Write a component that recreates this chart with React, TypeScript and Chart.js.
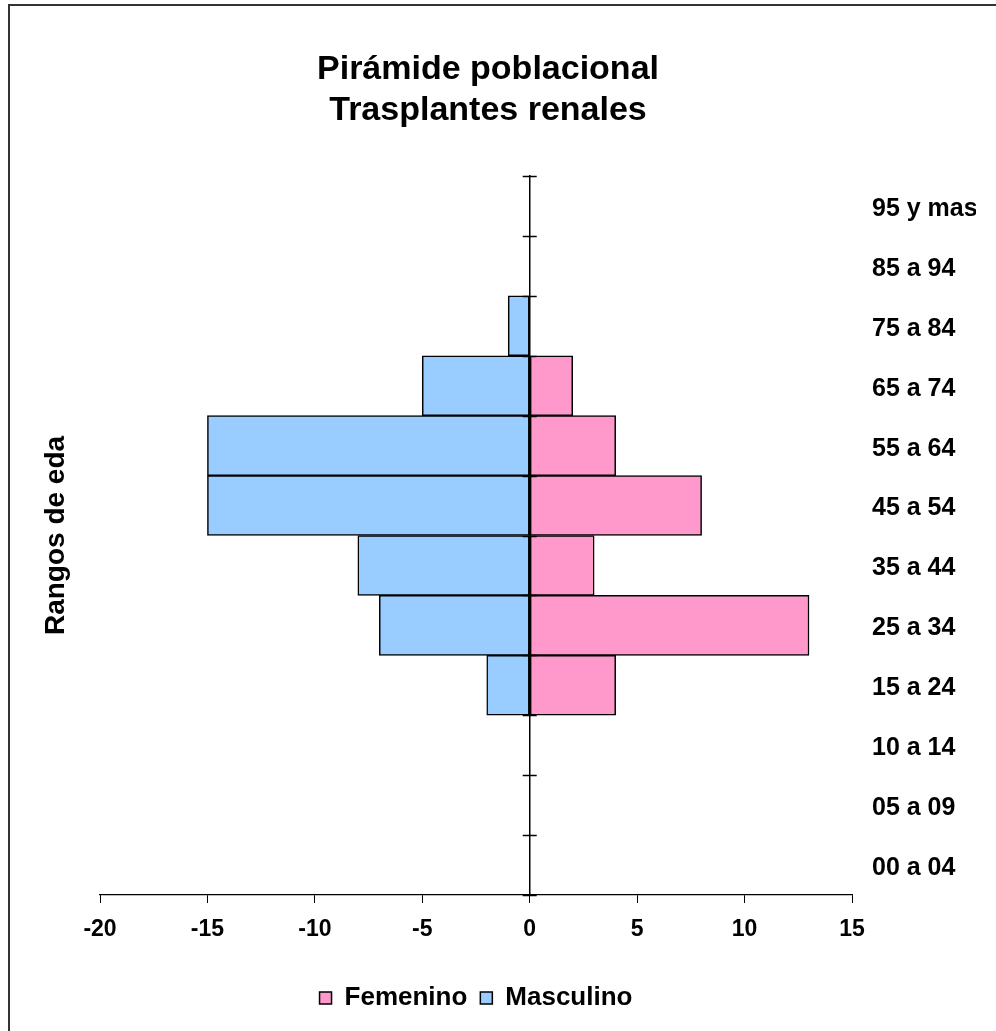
import React, { useEffect, useRef } from 'react';
import { Chart, registerables } from 'chart.js';

Chart.register(...registerables);

const categories = ['95 y mas', '85 a 94', '75 a 84', '65 a 74', '55 a 64', '45 a 54', '35 a 44', '25 a 34', '15 a 24', '10 a 14', '05 a 09', '00 a 04'];
const femenino = [0, 0, 0, 2, 4, 8, 3, 13, 4, 0, 0, 0];
const masculino = [0, 0, -1, -5, -15, -15, -8, -7, -2, 0, 0, 0];
const xMin = -20;
const xMax = 15;
const xStep = 5;
const titleLines = ['Pirámide poblacional', 'Trasplantes renales'];
const yTitle = 'Rangos de eda';
const seriesNames = ['Femenino', 'Masculino'];

const FONT = "'Liberation Sans', Arial, sans-serif";

export default function App() {
  const ref = useRef<HTMLCanvasElement>(null);

  useEffect(() => {
    if (!ref.current) return;
    const crossTicks = {
      id: 'crossTicks',
      afterDraw(chart: any) {
        const ys = chart.scales.y;
        const xs = chart.scales.x;
        const x0 = xs.getPixelForValue(0);
        const ctx = chart.ctx;
        ctx.save();
        ctx.strokeStyle = '#000';
        ctx.lineWidth = 1.5;
        for (let i = 0; i <= categories.length; i++) {
          const yp = Math.round(ys.getPixelForValue(i - 0.5)) + 0.5;
          ctx.beginPath();
          ctx.moveTo(x0 - 7, yp);
          ctx.lineTo(x0 + 7, yp);
          ctx.stroke();
        }
        ctx.restore();
      },
    };

    const chart = new Chart(ref.current, {
      type: 'bar',
      data: {
        labels: categories,
        datasets: [
          {
            label: seriesNames[0],
            data: femenino,
            backgroundColor: '#FF99CC',
            borderColor: '#000',
            borderWidth: 1.5,
            borderSkipped: false,
            barPercentage: 1,
            categoryPercentage: 1,
            xAxisID: 'x',
            yAxisID: 'y',
          },
          {
            label: seriesNames[1],
            data: masculino,
            backgroundColor: '#99CCFF',
            borderColor: '#000',
            borderWidth: 1.5,
            borderSkipped: false,
            barPercentage: 1,
            categoryPercentage: 1,
            xAxisID: 'x',
            yAxisID: 'y',
          },
        ],
      },
      options: {
        indexAxis: 'y',
        responsive: false,
        animation: false,
        devicePixelRatio: 1,
        layout: { padding: { left: 0, right: 20, top: 0, bottom: 10 } },
        plugins: {
          title: {
            display: true,
            text: titleLines,
            color: '#000',
            font: { family: FONT, size: 34, weight: 'bold', lineHeight: 41 / 34 },
            padding: { top: 49.5, bottom: 44.5 },
          },
          legend: {
            display: true,
            position: 'bottom',
            fullSize: false,
            labels: {
              boxWidth: 12,
              boxHeight: 12,
              padding: 13,
              color: '#000',
              font: { family: FONT, size: 26, weight: 'bold' },
            },
          },
          tooltip: { enabled: false },
        },
        scales: {
          x: {
            type: 'linear',
            min: xMin,
            max: xMax,
            stacked: true,
            ticks: {
              stepSize: xStep,
              color: '#000',
              padding: 13,
              font: { family: FONT, size: 23, weight: 'bold' },
            },
            grid: { drawOnChartArea: false, drawTicks: true, tickLength: 8, color: '#000', tickColor: '#000' },
            border: { display: true, color: '#000', width: 1.2 },
            afterFit(s: any) { s.height = 77; },
          },
          y: {
            type: 'category',
            position: { x: 0 },
            stacked: true,
            offset: true,
            z: 1,
            ticks: { display: false },
            grid: { display: false, drawTicks: false },
            border: { display: true, color: '#000', width: 1.5 },
          },
          y2: {
            type: 'category',
            position: 'right',
            offset: true,
            ticks: {
              color: '#000',
              crossAlign: 'near',
              padding: 20,
              labelOffset: 3,
              font: { family: FONT, size: 25, weight: 'bold' },
            },
            grid: { display: false, drawTicks: false },
            border: { display: false },
            afterFit(s: any) { s.width = 124; },
          },
          yl: {
            type: 'category',
            position: 'left',
            offset: true,
            ticks: { display: false },
            grid: { display: false, drawTicks: false },
            border: { display: false },
            title: {
              display: true,
              text: yTitle,
              color: '#000',
              font: { family: FONT, size: 28, weight: 'bold' },
              padding: { top: 39, bottom: 0 },
            },
            afterFit(s: any) { s.width = 100; },
          },
        },
      } as any,
      plugins: [crossTicks],
    });
    return () => chart.destroy();
  }, []);

  return (
    <div style={{ position: 'fixed', left: 0, top: 0, width: 996, height: 1031, overflow: 'hidden', background: '#fff' }}>
      <div style={{ position: 'absolute', left: 8, top: 4, width: 1010, height: 1050, border: '2px solid #333', boxSizing: 'border-box' }} />
      <canvas ref={ref} width={996} height={1031} style={{ position: 'absolute', left: 0, top: 0, width: 996, height: 1031 }} />
    </div>
  );
}
